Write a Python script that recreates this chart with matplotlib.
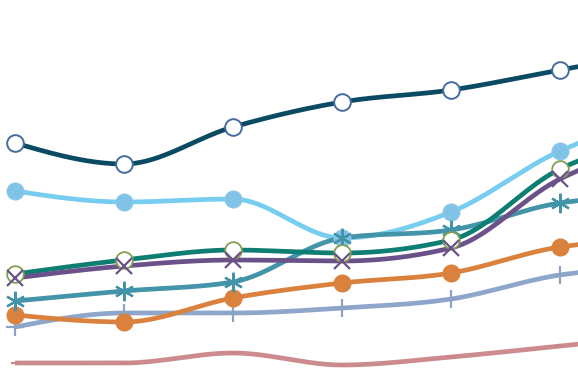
import numpy as np
import matplotlib
matplotlib.use("Agg")
import matplotlib.pyplot as plt

periods = [0, 1, 2, 3, 4, 5, 6]

navy = [242, 221, 258, 283, 295, 315, 335]
light_blue = [194, 183, 186, 147, 173, 234, 270]
green = [111, 125, 135, 132, 145, 216, 250]
purple = [107, 119, 125, 124, 137, 206, 245]
teal = [84, 94, 103, 147, 155, 182, 190]
orange = [70, 63, 87, 102, 112, 138, 146]
bluegray = [58, 72, 72, 77, 86, 110, 118]
pink = [22, 22, 32, 20, 28, 39, 50]


def monotone(xs, ys, n=40):
    xs = np.asarray(xs, float)
    ys = np.asarray(ys, float)
    h = np.diff(xs)
    s = np.diff(ys) / h
    m = len(xs)
    t = np.zeros(m)
    for i in range(1, m - 1):
        s0, s1 = s[i - 1], s[i]
        p = (s0 * h[i] + s1 * h[i - 1]) / (h[i - 1] + h[i])
        t[i] = (np.sign(s0) + np.sign(s1)) * min(abs(s0), abs(s1), 0.5 * abs(p))
    t[0] = (3 * s[0] - t[1]) / 2
    t[-1] = (3 * s[-1] - t[-2]) / 2
    X, Y = [], []
    for i in range(m - 1):
        u = np.linspace(0, 1, n)
        h00 = 2 * u**3 - 3 * u**2 + 1
        h10 = u**3 - 2 * u**2 + u
        h01 = -2 * u**3 + 3 * u**2
        h11 = u**3 - u**2
        X.append(xs[i] + u * h[i])
        Y.append(h00 * ys[i] + h10 * h[i] * t[i] + h01 * ys[i + 1] + h11 * h[i] * t[i + 1])
    return np.concatenate(X), np.concatenate(Y)


fig = plt.figure(figsize=(5.78, 3.85), dpi=100)
ax = fig.add_axes([0, 0, 1, 1])
ax.set_xlim(-15 / 109, (578 - 15) / 109)
ax.set_ylim(0, 385)
ax.axis("off")

lw = 3.4
series = [
    (pink, "#cc8b8e", dict(marker="_", ms=6, mew=1.5, mec="#c98488")),
    (bluegray, "#8fa6cb", dict(marker="+", ms=13, mew=1.6, mec="#8ca3c8")),
    (orange, "#da823d", dict(marker="o", ms=12, mfc="#da823d", mec="#da823d")),
    (light_blue, "#76cdf0", dict(marker="o", ms=12, mfc="#7fc3e6", mec="#8cc6e6", mew=1)),
    (teal, "#4394a8", dict(marker=(6, 2, 0), ms=14, mew=1.6, mec="#4394a8")),
    (green, "#0e7d72", dict(marker="o", ms=12, mfc="white", mec="#82a04f", mew=1.3)),
    (purple, "#6b5189", dict(marker="x", ms=11, mew=1.6, mec="#6b5189")),
    (navy, "#0b4a63", dict(marker="o", ms=12, mfc="white", mec="#456c9c", mew=1.4)),
]

for vals, col, mk in series:
    X, Y = monotone(periods, vals)
    ax.plot(X, Y, color=col, lw=lw, solid_capstyle="butt", zorder=2)
    ax.plot(periods, vals, ls="none", zorder=3, **mk)

fig.savefig("out.png", dpi=100)
